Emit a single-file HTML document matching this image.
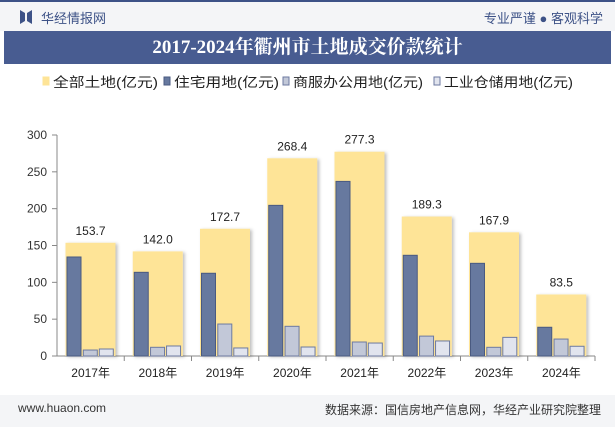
<!DOCTYPE html>
<html><head><meta charset="utf-8">
<style>
body{margin:0;width:615px;height:427px;overflow:hidden;background:#fff;font-family:"Liberation Sans","Noto Sans CJK SC",sans-serif;}
#wrap{position:relative;width:615px;height:427px;}
.hdr{position:absolute;left:0;top:0;width:615px;height:31px;background:#f4f5f7;border-top:2px solid #3d5287;box-sizing:border-box;}
.title{position:absolute;left:4px;top:31px;width:607px;height:33px;background:#485c91;color:#fff;font:bold 19px "Liberation Serif","Noto Serif CJK SC",serif;text-align:center;line-height:33px;white-space:nowrap;}
.ftr{position:absolute;left:0;top:395px;width:615px;height:32px;background:#f4f5f7;}
</style></head><body><div id="wrap">
<div class="hdr">
 <svg style="position:absolute;left:20px;top:8px" width="12" height="14"><path d="M0 0 L5 3 L5 11 L0 14Z M12 0 L7 3 L7 11 L12 14Z" fill="#3d5287"/></svg>
 <span style="position:absolute;left:41px;top:6px;font-size:13px;color:#3d5287">华经情报网</span>
 <span style="position:absolute;right:12px;top:6px;font-size:13px;color:#3d5287">专业严谨 ● 客观科学</span>
</div>
<div class="title">2017-2024年衢州市土地成交价款统计</div>
<div class="ftr">
 <span style="position:absolute;left:18px;top:6px;font-size:12px;color:#333">www.huaon.com</span>
 <span style="position:absolute;right:14px;top:6px;font-size:12px;color:#333">数据来源：国信房地产信息网，华经产业研究院整理</span>
</div>
<svg id="chart" width="615" height="427" style="position:absolute;left:0;top:0">
<defs><filter id="sh" x="-10%" y="-10%" width="130%" height="130%"><feDropShadow dx="2" dy="1" stdDeviation="1.5" flood-color="#000" flood-opacity="0.25"/></filter></defs>
</svg>
</div>
<script>
const categories=["2017年","2018年","2019年","2020年","2021年","2022年","2023年","2024年"];
const totalValues=[153.7,142.0,172.7,268.4,277.3,189.3,167.9,83.5];
const residentialValues=[134.4,113.6,112.3,204.5,237,136.7,125.8,39];
const commercialValues=[8.1,11.8,43.4,40.3,19,27,11.8,23];
const industrialValues=[9.5,13.6,10.9,12.2,17.6,20.4,25.3,13.2];
const yTicks=[0,50,100,150,200,250,300];
const legendLabels=["全部土地(亿元)","住宅用地(亿元)","商服办公用地(亿元)","工业仓储用地(亿元)"];
const NS="http://www.w3.org/2000/svg";
const svg=document.getElementById('chart');
const x0=57,bw=67.25,y0=356,ppu=221/300;
const y=v=>y0-v*ppu;
function el(t,a,p){const e=document.createElementNS(NS,t);for(const k in a)e.setAttribute(k,a[k]);(p||svg).appendChild(e);return e;}
el('line',{x1:x0,y1:y(300),x2:x0,y2:y0,stroke:'#888'});
yTicks.forEach(t=>{
 el('line',{x1:x0-5,y1:y(t),x2:x0,y2:y(t),stroke:'#888'});
 const tx=el('text',{x:x0-10,y:y(t)+4,'text-anchor':'end','font-size':12,fill:'#333'});tx.textContent=t;
 
 
});
el('line',{x1:x0,y1:y0,x2:x0+bw*8,y2:y0,stroke:'#888'});
categories.forEach((c,i)=>{
 const bx=x0+i*bw;
 el('line',{x1:bx+bw,y1:y0,x2:bx+bw,y2:y0+5,stroke:'#888'});
 const tb=el('rect',{x:bx+8.5,y:y(totalValues[i]),width:50,height:totalValues[i]*ppu,fill:'#fee497',filter:'url(#sh)'});
 
 
 const lb=el('text',{x:bx+33.5,y:y(totalValues[i])-8,'text-anchor':'middle','font-size':12,fill:'#222'});lb.textContent=totalValues[i].toFixed(1);
 
 
 const sets=[[residentialValues,'#67799f','#4a5a80',10],[commercialValues,'#c2c8d8','#6d7aa0',26.3],[industrialValues,'#e1e4ee','#6d7aa0',42.3]];
 sets.forEach((s,j)=>{
  const r=el('rect',{x:bx+s[3],y:y(s[0][i]),width:14,height:s[0][i]*ppu,fill:s[1],stroke:s[2],'stroke-width':1});
  
  
 });
 const xl=el('text',{x:bx+bw/2,y:y0+21,'text-anchor':'middle','font-size':12,fill:'#222'});xl.textContent=c;
 
 
});
const lx=[43,164,283,434],lw=[105,105,130,129],lc=[['#fee497','#fee497'],['#67799f','#4a5a80'],['#c2c8d8','#6d7aa0'],['#e1e4ee','#6d7aa0']];
legendLabels.forEach((t,i)=>{
 const g=el('g',{});
 
 
 el('rect',{x:lx[i],y:77,width:6,height:8,fill:lc[i][0],stroke:lc[i][1]},g);
 const tx=el('text',{x:lx[i]+10,y:87,'font-size':13.5,fill:'#222',textLength:lw[i],lengthAdjust:'spacingAndGlyphs'},g);tx.textContent=t;
});
</script>
</body></html>
